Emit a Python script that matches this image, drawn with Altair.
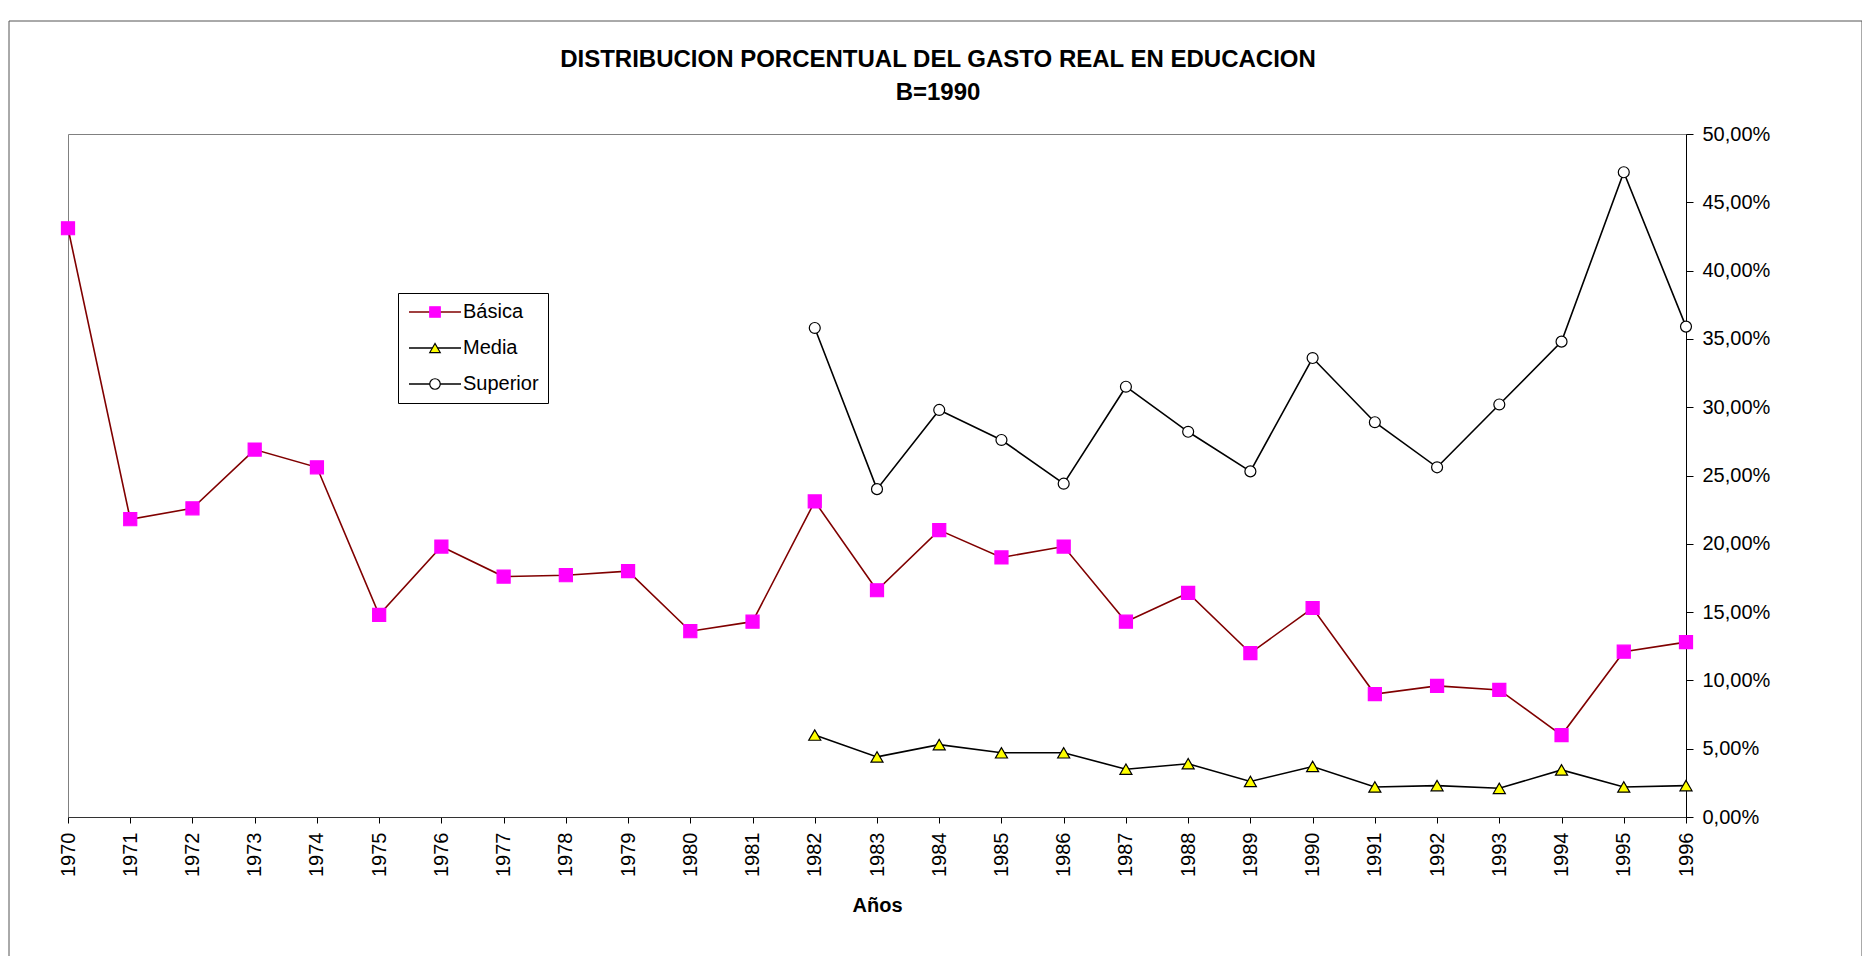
import altair as alt
import pandas as pd

FONT = "Liberation Sans"

years = list(range(1970, 1997))
basica = [43.1, 21.8, 22.6, 26.9, 25.6, 14.8, 19.8, 17.6, 17.7, 18.0, 13.6, 14.3,
          23.1, 16.6, 21.0, 19.0, 19.8, 14.3, 16.4, 12.0, 15.3, 9.0, 9.6, 9.3,
          6.0, 12.1, 12.8]
years_ms = list(range(1982, 1997))
media = [6.0, 4.4, 5.3, 4.7, 4.7, 3.5, 3.9, 2.6, 3.7, 2.2, 2.3, 2.1, 3.45, 2.2, 2.3]
superior = [35.8, 24.0, 29.8, 27.6, 24.4, 31.5, 28.2, 25.3, 33.6, 28.9, 25.6,
            30.2, 34.8, 47.2, 35.9]
series = ["Básica", "Media", "Superior"]
marker_keys = ["b", "m", "s"]
size_keys = ["q", "t", "c"]
y_ticks = [0, 5, 10, 15, 20, 25, 30, 35, 40, 45, 50]

rows = []
for yr, v in zip(years, basica):
    rows.append({"Año": yr, "Valor": v, "Serie": "Básica", "Marca": "b", "Tam": "q"})
for yr, v in zip(years_ms, media):
    rows.append({"Año": yr, "Valor": v, "Serie": "Media", "Marca": "m", "Tam": "t"})
for yr, v in zip(years_ms, superior):
    rows.append({"Año": yr, "Valor": v, "Serie": "Superior", "Marca": "s", "Tam": "c"})
df = pd.DataFrame(rows)

x_enc = alt.X(
    "Año:Q",
    scale=alt.Scale(domain=[1970, 1996], nice=False, zero=False),
    axis=alt.Axis(
        values=years, format="d", labelAngle=270, labelFont=FONT, labelFontSize=20,
        labelColor="black", labelPadding=9, tickSize=6, tickColor="black",
        domainColor="#333333", grid=False, labelFlush=False, labelOverlap=False,
        title="Años", titleFont=FONT, titleFontSize=20, titleFontWeight="bold",
        titleColor="black", titleY=94, titleBaseline="alphabetic",
    ),
)
y_enc = alt.Y(
    "Valor:Q",
    scale=alt.Scale(domain=[0, 50], nice=False),
    axis=alt.Axis(
        orient="right", values=y_ticks,
        labelExpr="replace(format(datum.value, '.2f'), '.', ',') + '%'",
        labelFont=FONT, labelFontSize=20, labelColor="black", labelPadding=9,
        tickSize=7, tickColor="black", domainColor="black", grid=False, title=None,
    ),
)

leg_lines = alt.Legend(
    title=None, orient="none", legendX=330, legendY=159,
    symbolType="M-5.2,0H5.2", symbolSize=100, symbolStrokeWidth=1.6,
    symbolOffset=18, labelOffset=18, labelFont=FONT, labelFontSize=20,
    labelColor="black", padding=9, rowPadding=16,
    strokeColor="black", zindex=1,
)
leg_marks = alt.Legend(
    title=None, orient="none", legendX=330, legendY=159,
    symbolSize=110, symbolStrokeWidth=1.2, symbolOffset=18, labelOpacity=0,
    labelFont=FONT, labelFontSize=20, padding=9, rowPadding=16,
    strokeColor="transparent", zindex=2,
)

base = alt.Chart(df)

lines = base.mark_line(strokeWidth=1.6).encode(
    x=x_enc, y=y_enc,
    stroke=alt.Stroke("Serie:N", scale=alt.Scale(domain=series, range=["#800000", "#000000", "#000000"]),
                      legend=leg_lines),
)

points = base.mark_point(filled=True, opacity=1, strokeWidth=1.2).encode(
    x=x_enc, y=y_enc,
    shape=alt.Shape("Marca:N", scale=alt.Scale(domain=marker_keys, range=["square", "triangle-up", "circle"]),
                    legend=leg_marks),
    fill=alt.Fill("Marca:N", scale=alt.Scale(domain=marker_keys, range=["#ff00ff", "#ffff00", "#ffffff"]),
                  legend=leg_marks),
    stroke=alt.Stroke("Marca:N", scale=alt.Scale(domain=marker_keys, range=["#ff00ff", "#000000", "#000000"]),
                      legend=leg_marks),
    size=alt.Size("Tam:N", scale=alt.Scale(domain=size_keys, range=[170, 120, 85]), legend=None),
)

frame = alt.Chart(alt.Data(values=[{"k": 1}])).mark_rect(
    fillOpacity=0, stroke="#555555", strokeWidth=1
).encode(x=alt.value(-59), x2=alt.value(1794), y=alt.value(-113), y2=alt.value(900))

chart = alt.layer(frame, lines, points).resolve_scale(
    stroke="independent", shape="independent", fill="independent", size="independent"
).resolve_legend(
    stroke="independent", shape="independent", fill="independent", size="independent"
).properties(
    width=1618, height=683,
    title=alt.TitleParams(
        text=["DISTRIBUCION PORCENTUAL DEL GASTO REAL EN EDUCACION", "B=1990"],
        font=FONT, fontSize=24, fontWeight="bold", color="black",
        anchor="middle", dx=61, lineHeight=33, offset=-84,
    ),
    autosize=alt.AutoSizeParams(type="none"),
    padding={"left": 60, "top": 126, "right": 176, "bottom": 139},
).configure_view(stroke="#808080", strokeWidth=1)

chart.save("out.html", embed_options={"renderer": "svg", "actions": False})
